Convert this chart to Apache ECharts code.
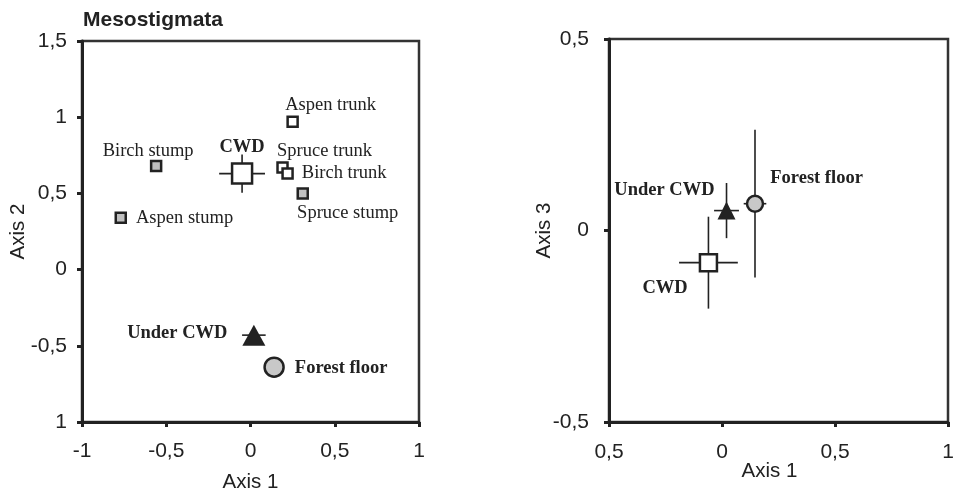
<!DOCTYPE html>
<html>
<head>
<meta charset="utf-8">
<script src="https://cdn.jsdelivr.net/npm/echarts@6/dist/echarts.min.js"></script>
<style>html,body{margin:0;padding:0;background:#fff;}#c{width:954px;height:489px;}</style>
</head>
<body>
<div id="c"></div>
<script>
// ---------- DATA ----------
const leftXTicks = ['-1', '-0,5', '0', '0,5', '1'];
const leftYTicks = ['1', '-0,5', '0', '0,5', '1', '1,5'];
const rightXTicks = ['0,5', '0', '0,5', '1'];
const rightYTicks = ['-0,5', '0', '0,5'];

// Left panel (Axis 1 vs Axis 2)
const stumpNames = ['Birch stump', 'Spruce stump', 'Aspen stump'];
const stumpPts = [[-0.56, 0.68], [0.31, 0.50], [-0.77, 0.34]];
const trunkNames = ['Aspen trunk', 'Spruce trunk', 'Birch trunk'];
const trunkPts = [[0.25, 0.97], [0.19, 0.67], [0.22, 0.63]];
const leftCWD = [-0.05, 0.63];
const leftCWDErr = [0.136, 0.125];
const leftUnder = [0.02, -0.43];
const leftUnderErr = [0.07, 0.05];
const leftFloor = [0.14, -0.64];

// Right panel (Axis 1 vs Axis 3)
const rightCWD = [-0.06, -0.084];
const rightCWDErr = [0.13, 0.12];
const rightUnder = [0.02, 0.052];
const rightUnderErr = [0.055, 0.072];
const rightFloor = [0.146, 0.07];
const rightFloorErr = [0.05, 0.193];

// ---------- STYLE ----------
const DARK = '#222';
const serif = '"Liberation Serif", "Times New Roman", serif';
const sans = '"Liberation Sans", Arial, sans-serif';
const labelPlace = {
  'Aspen trunk': {position: 'top', distance: 4, offset: [38, 3]},
  'Birch stump': {position: 'top', distance: 3, offset: [-8, 4]},
  'Spruce trunk': {position: 'top', distance: 3, offset: [42, 2]},
  'Birch trunk': {position: 'right', distance: 8, offset: [0, 0]},
  'Spruce stump': {position: 'bottom', distance: 5, offset: [45, -1]},
  'Aspen stump': {position: 'right', distance: 9, offset: [0, 0]},
  'L-CWD': {position: 'top', distance: 6, offset: [0, 0]},
  'L-Under': {position: 'left', distance: 15, offset: [0, -2]},
  'L-Floor': {position: 'right', distance: 10, offset: [0, 1]},
  'R-CWD': {position: 'left', distance: 11, offset: [0, 26]},
  'R-Under': {position: 'left', distance: 3, offset: [0, -20]},
  'R-Floor': {position: 'right', distance: 6, offset: [0, -25]}
};
function lbl(key, text, bold) {
  const p = labelPlace[key];
  return {show: true, formatter: text, position: p.position, distance: p.distance, offset: p.offset,
    fontFamily: serif, fontSize: 18.5, fontWeight: bold ? 'bold' : 'normal', color: DARK};
}
function errRender(params, api) {
  const x = api.value(0), y = api.value(1), ex = api.value(2), ey = api.value(3);
  const l = api.coord([x - ex, y]), r = api.coord([x + ex, y]);
  const t = api.coord([x, y + ey]), b = api.coord([x, y - ey]);
  const st = {stroke: DARK, lineWidth: 1.6};
  return {type: 'group', children: [
    {type: 'line', shape: {x1: l[0], y1: l[1], x2: r[0], y2: r[1]}, style: st},
    {type: 'line', shape: {x1: t[0], y1: t[1], x2: b[0], y2: b[1]}, style: st}
  ]};
}
function axisCommon(labels, margin) {
  return {
    type: 'value',
    axisLine: {show: true, onZero: false, lineStyle: {color: DARK, width: 3}},
    axisTick: {show: true, inside: false, length: 5, lineStyle: {color: DARK, width: 3}},
    splitLine: {show: false},
    axisLabel: {color: DARK, fontFamily: sans, fontSize: 21, showMinLabel: true, showMaxLabel: true, margin: margin,
      formatter: function (v, i) { return labels[i]; }},
    nameTextStyle: {color: DARK, fontFamily: sans, fontSize: 20.5},
    nameLocation: 'middle',
    nameMoveOverlap: false
  };
}

const chart = echarts.init(document.getElementById('c'), null, {renderer: 'canvas'});
const option = {
  animation: false,
  backgroundColor: '#fff',
  title: {text: 'Mesostigmata', left: 78, top: 5,
    textStyle: {fontFamily: sans, fontSize: 21, fontWeight: 'bold', color: DARK}},
  grid: [
    {left: 82, right: 535, top: 41, bottom: 67, containLabel: false, outerBoundsMode: 'none',
      show: true, borderColor: '#333', borderWidth: 2.5, backgroundColor: 'transparent'},
    {left: 609, right: 6, top: 39, bottom: 67, containLabel: false, outerBoundsMode: 'none',
      show: true, borderColor: '#333', borderWidth: 2.5, backgroundColor: 'transparent'}
  ],
  xAxis: [
    Object.assign(axisCommon(leftXTicks, 19), {gridIndex: 0, min: -1, max: 1, interval: 0.5, name: 'Axis 1', nameGap: 50}),
    Object.assign(axisCommon(rightXTicks, 20), {gridIndex: 1, min: -0.5, max: 1, interval: 0.5, name: 'Axis 1', nameGap: 39,
      nameTextStyle: {color: DARK, fontFamily: sans, fontSize: 20.5, padding: [0, 18, 0, 0]}})
  ],
  yAxis: [
    Object.assign(axisCommon(leftYTicks, 15), {gridIndex: 0, min: -1, max: 1.5, interval: 0.5, name: 'Axis 2', nameGap: 53}),
    Object.assign(axisCommon(rightYTicks, 20), {gridIndex: 1, min: -0.5, max: 0.5, interval: 0.5, name: 'Axis 3', nameGap: 54})
  ],
  series: [
    {type: 'custom', xAxisIndex: 0, yAxisIndex: 0, z: 1, renderItem: errRender, encode: {x: 0, y: 1},
      data: [leftCWD.concat(leftCWDErr), leftUnder.concat(leftUnderErr)]},
    {type: 'custom', xAxisIndex: 1, yAxisIndex: 1, z: 1, renderItem: errRender, encode: {x: 0, y: 1},
      data: [rightCWD.concat(rightCWDErr), rightUnder.concat(rightUnderErr), rightFloor.concat(rightFloorErr)]},
    {type: 'scatter', xAxisIndex: 0, yAxisIndex: 0, z: 3, symbol: 'rect', symbolSize: 10,
      itemStyle: {color: '#c0c0c0', borderColor: DARK, borderWidth: 2.5, opacity: 1},
      data: stumpPts.map((p, i) => ({value: p, label: lbl(stumpNames[i], stumpNames[i], false)}))},
    {type: 'scatter', xAxisIndex: 0, yAxisIndex: 0, z: 3, symbol: 'rect', symbolSize: 10,
      itemStyle: {color: '#fff', borderColor: DARK, borderWidth: 2.5, opacity: 1},
      data: trunkPts.map((p, i) => ({value: p, label: lbl(trunkNames[i], trunkNames[i], false)}))},
    {type: 'scatter', xAxisIndex: 0, yAxisIndex: 0, z: 3, symbol: 'rect', symbolSize: 20,
      itemStyle: {color: '#fff', borderColor: DARK, borderWidth: 2.5, opacity: 1},
      data: [{value: leftCWD, label: lbl('L-CWD', 'CWD', true)}]},
    {type: 'scatter', xAxisIndex: 0, yAxisIndex: 0, z: 3, symbol: 'triangle', symbolSize: [23, 21],
      itemStyle: {color: DARK, opacity: 1},
      data: [{value: leftUnder, label: lbl('L-Under', 'Under CWD', true)}]},
    {type: 'scatter', xAxisIndex: 0, yAxisIndex: 0, z: 3, symbol: 'circle', symbolSize: 19,
      itemStyle: {color: '#c8c8c8', borderColor: DARK, borderWidth: 2.5, opacity: 1},
      data: [{value: leftFloor, label: lbl('L-Floor', 'Forest floor', true)}]},
    {type: 'scatter', xAxisIndex: 1, yAxisIndex: 1, z: 3, symbol: 'rect', symbolSize: 17,
      itemStyle: {color: '#fff', borderColor: DARK, borderWidth: 2.5, opacity: 1},
      data: [{value: rightCWD, label: lbl('R-CWD', 'CWD', true)}]},
    {type: 'scatter', xAxisIndex: 1, yAxisIndex: 1, z: 3, symbol: 'triangle', symbolSize: [18, 18],
      itemStyle: {color: DARK, opacity: 1},
      data: [{value: rightUnder, label: lbl('R-Under', 'Under CWD', true)}]},
    {type: 'scatter', xAxisIndex: 1, yAxisIndex: 1, z: 3, symbol: 'circle', symbolSize: 16,
      itemStyle: {color: '#c8c8c8', borderColor: DARK, borderWidth: 2.5, opacity: 1},
      data: [{value: rightFloor, label: lbl('R-Floor', 'Forest floor', true)}]}
  ]
};
chart.setOption(option);
</script>
</body>
</html>
